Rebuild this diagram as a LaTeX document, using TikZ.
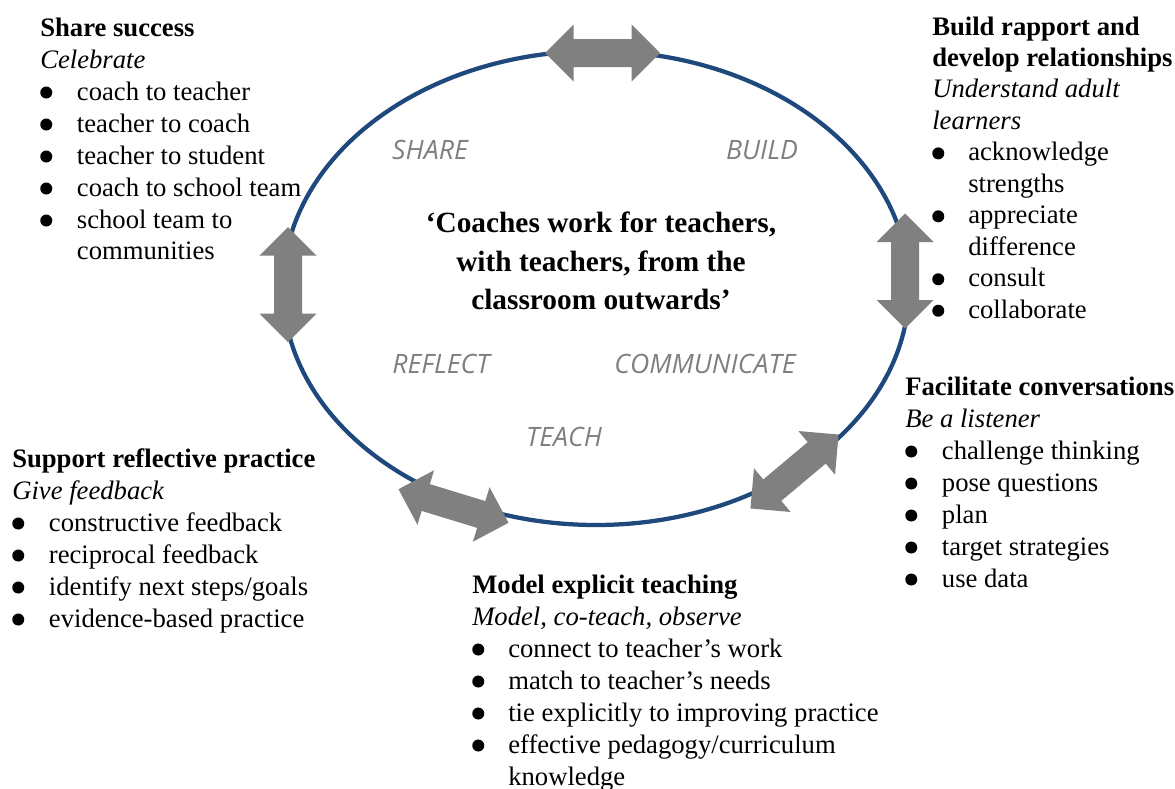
\documentclass[tikz,border=0pt]{standalone}
\usepackage{fontspec}
\setmainfont{Liberation Serif}
\newfontfamily\wordfont{Open Sans}
\usepackage{array}
\definecolor{ringblue}{HTML}{1F497D}
\definecolor{arrowgray}{HTML}{808080}
\definecolor{wordgray}{HTML}{7F7F7F}
\newcommand{\blockhead}[1]{\multicolumn{2}{@{}l@{}}{\textbf{#1}}}
\newcommand{\blocksub}[1]{\multicolumn{2}{@{}l@{}}{\textit{#1}}}
\newcommand{\bul}{\tikz[baseline={(0pt,-5.6pt)}]\fill (0pt,0pt) circle [radius=4.5pt];}
\tikzset{
  dblarrow/.pic={
    \fill[arrowgray] (-57.5,0) -- (-29,-28.5) -- (-29,-14) -- (29,-14) -- (29,-28.5)
      -- (57.5,0) -- (29,28.5) -- (29,14) -- (-29,14) -- (-29,28.5) -- cycle;
  }
}

\begin{document}
\begin{tikzpicture}[x=0.75pt,y=-0.75pt,
    block/.style={anchor=base west, inner sep=0pt, font=\fontsize{20}{24}\selectfont},
    word/.style={inner sep=0pt, text=wordgray, font=\wordfont\itshape\fontsize{20}{24}\selectfont}]
    \useasboundingbox (0,0) rectangle (1175,789);

    % ring
    \draw[ringblue, line width=3.2pt] (596,288) ellipse [x radius=234.75pt, y radius=177.75pt];

    % arrows on the ring
    \pic (arrowtop) at (602.5,53) {dblarrow};
    \pic[rotate=90] (arrowleft) at (288,284.5) {dblarrow};
    \pic[rotate=90] (arrowright) at (905,271) {dblarrow};
    \pic[rotate=40] (arrowbr) at (794.5,471.5) {dblarrow};
    \pic[rotate=-17] (arrowbl) at (453.5,506) {dblarrow};

    % inside the ring
    \node[align=center, inner sep=0pt, font=\bfseries\fontsize{22}{29}\selectfont] (motto) at (601,261)
      {‘Coaches work for teachers,\\with teachers, from the\\classroom outwards’};
    \node[word] (share) at (430,150) {SHARE};
    \node[word] (build) at (762,150) {BUILD};
    \node[word] (reflect) at (441,364) {REFLECT};
    \node[word] (communicate) at (705,364) {COMMUNICATE};
    \node[word] (teach) at (564,437) {TEACH};

    % lists
    \node[block] (sharelist) at (40,36) {\begin{tabular}[t]{@{}p{27.5pt}@{}l@{}}
      \blockhead{Share success}\\
      \blocksub{Celebrate}\\
      \bul & coach to teacher\\
      \bul & teacher to coach\\
      \bul & teacher to student\\
      \bul & coach to school team\\
      \bul & school team to\\
      & communities
    \end{tabular}};
    \node[block, font=\fontsize{20}{23.6}\selectfont] (buildlist) at (932,35) {\begin{tabular}[t]{@{}p{27pt}@{}l@{}}
      \blockhead{Build rapport and}\\
      \blockhead{develop relationships}\\
      \blocksub{Understand adult}\\
      \blocksub{learners}\\
      \bul & acknowledge\\
      & strengths\\
      \bul & appreciate\\
      & difference\\
      \bul & consult\\
      \bul & collaborate
    \end{tabular}};
    \node[block] (facilitatelist) at (905,395) {\begin{tabular}[t]{@{}p{27.5pt}@{}l@{}}
      \blockhead{Facilitate conversations}\\
      \blocksub{Be a listener}\\
      \bul & challenge thinking\\
      \bul & pose questions\\
      \bul & plan\\
      \bul & target strategies\\
      \bul & use data
    \end{tabular}};
    \node[block] (supportlist) at (12,467) {\begin{tabular}[t]{@{}p{27.5pt}@{}l@{}}
      \blockhead{Support reflective practice}\\
      \blocksub{Give feedback}\\
      \bul & constructive feedback\\
      \bul & reciprocal feedback\\
      \bul & identify next steps/goals\\
      \bul & evidence-based practice
    \end{tabular}};
    \node[block] (modellist) at (472,593) {\begin{tabular}[t]{@{}p{27pt}@{}l@{}}
      \blockhead{Model explicit teaching}\\
      \blocksub{Model, co-teach, observe}\\
      \bul & connect to teacher’s work\\
      \bul & match to teacher’s needs\\
      \bul & tie explicitly to improving practice\\
      \bul & effective pedagogy/curriculum\\
      & knowledge
    \end{tabular}};
\end{tikzpicture}
\end{document}
